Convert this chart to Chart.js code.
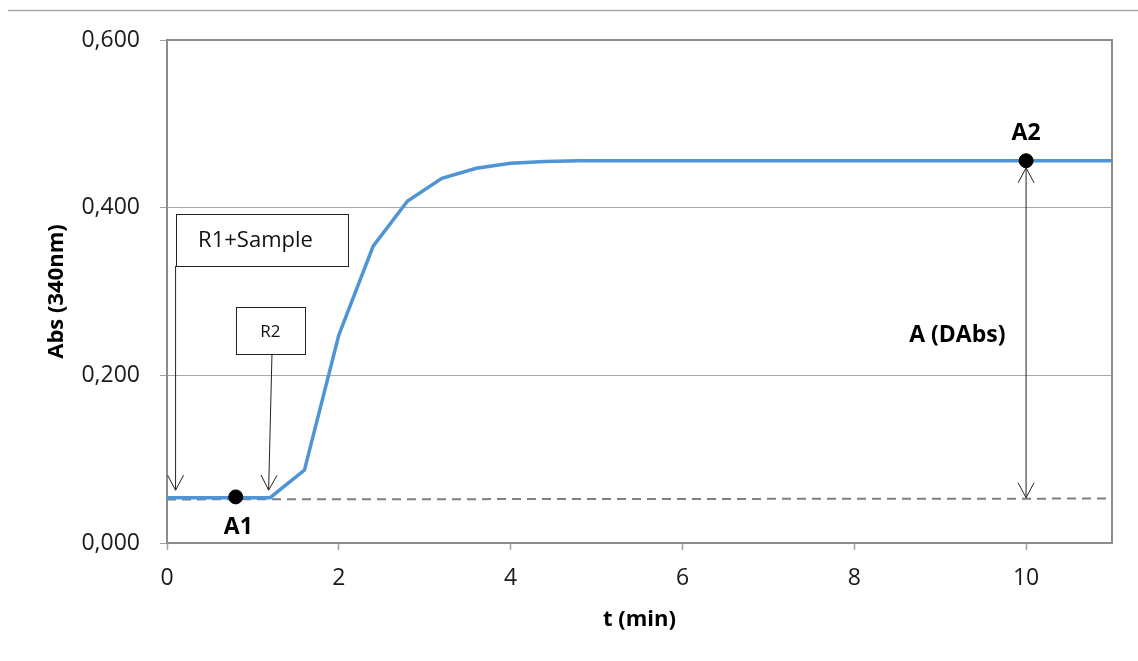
<!DOCTYPE html>
<html lang="fr">
<head>
<meta charset="UTF-8">
<title>Abs (340nm) - cinétique</title>
<script src="https://cdn.jsdelivr.net/npm/chart.js@4.4.0/dist/chart.umd.min.js"></script>
<style>
    html, body { margin: 0; padding: 0; background: #fff; }
    .chart-container { position: relative; width: 1138px; height: 661px; }
</style>
</head>
<body>
<div class="chart-container"><canvas id="absChart"></canvas></div>
<script>
    // Valeurs
    const temps = [0, 0.4, 0.8, 1.2, 1.6, 2.0, 2.4, 2.8, 3.2, 3.6, 4.0, 4.4, 4.8, 6, 8, 10, 11];
    const absorbance = [0.054, 0.054, 0.054, 0.054, 0.087, 0.248, 0.354, 0.408, 0.435, 0.447, 0.453, 0.455, 0.456, 0.456, 0.456, 0.456, 0.456];

    // Ligne de base (pointillés)
    const baseTemps = [0, 11];
    const baseAbs = [0.052, 0.053];

    // Points A1 et A2
    const pointsTemps = [0.8, 10];
    const pointsAbs = [0.055, 0.456];

    const xTicks = [0, 2, 4, 6, 8, 10];
    const xTickLabels = ['0', '2', '4', '6', '8', '10'];
    const yTicks = [0, 0.2, 0.4, 0.6];
    const yTickLabels = ['0,000', '0,200', '0,400', '0,600'];

    // Annotations (en unités du graphique)
    const boites = [
        { texte: 'R1+Sample', x0: 0.10, x1: 2.107, y0: 0.3305, y1: 0.393, tx: 1.03, ty: 0.361, taille: 22 },
        { texte: 'R2', x0: 0.806, x1: 1.603, y0: 0.225, y1: 0.281, tx: 1.203, ty: 0.252, taille: 17 }
    ];
    const fleches = [
        { de: [0.10, 0.3305], a: [0.10, 0.063], double: false },
        { de: [1.222, 0.225], a: [1.183, 0.063], double: false },
        { de: [10, 0.054], a: [10, 0.4475], double: true }
    ];
    const etiquettes = [
        { texte: 'A1', t: 0.83, v: 0.019 },
        { texte: 'A2', t: 10, v: 0.488 },
        { texte: 'A (DAbs)', t: 9.2, v: 0.248 }
    ];

    const police = '"Open Sans", "DejaVu Sans", sans-serif';
    const gris = '#8c8c8c';

    function pointeOuverte(ctx, x1, y1, x2, y2) {
        const ang = Math.atan2(y2 - y1, x2 - x1);
        const L = 17, a = 0.49;
        ctx.beginPath();
        ctx.moveTo(x2 - L * Math.cos(ang - a), y2 - L * Math.sin(ang - a));
        ctx.lineTo(x2, y2);
        ctx.lineTo(x2 - L * Math.cos(ang + a), y2 - L * Math.sin(ang + a));
        ctx.stroke();
    }

    const decor = {
        id: 'decor',
        beforeDraw(chart) {
            const ctx = chart.ctx;
            ctx.save();
            ctx.fillStyle = '#fff';
            ctx.fillRect(0, 0, chart.width, chart.height);
            ctx.strokeStyle = '#a6a6a6';
            ctx.lineWidth = 1.5;
            ctx.beginPath();
            ctx.moveTo(8, 10.5);
            ctx.lineTo(chart.width, 10.5);
            ctx.stroke();
            ctx.restore();
        },
        beforeDatasetsDraw(chart) {
            const { ctx, chartArea: ca } = chart;
            ctx.save();
            ctx.strokeStyle = gris;
            ctx.lineWidth = 2;
            ctx.strokeRect(ca.left, ca.top, ca.right - ca.left, ca.bottom - ca.top);
            ctx.restore();
        },
        afterDatasetsDraw(chart) {
            const { ctx, scales: { x, y } } = chart;
            ctx.save();
            ctx.strokeStyle = '#222';
            ctx.lineWidth = 1;
            ctx.fillStyle = '#111';
            ctx.textAlign = 'center';
            ctx.textBaseline = 'middle';
            boites.forEach(b => {
                const px0 = Math.round(x.getPixelForValue(b.x0)) + 0.5;
                const px1 = Math.round(x.getPixelForValue(b.x1)) + 0.5;
                const py0 = Math.round(y.getPixelForValue(b.y1)) + 0.5;
                const py1 = Math.round(y.getPixelForValue(b.y0)) + 0.5;
                ctx.fillStyle = '#fff';
                ctx.fillRect(px0, py0, px1 - px0, py1 - py0);
                ctx.strokeRect(px0, py0, px1 - px0, py1 - py0);
                ctx.fillStyle = '#111';
                ctx.font = b.taille + 'px ' + police;
                ctx.fillText(b.texte, x.getPixelForValue(b.tx), y.getPixelForValue(b.ty));
            });
            fleches.forEach(f => {
                const x1 = x.getPixelForValue(f.de[0]), y1 = y.getPixelForValue(f.de[1]);
                const x2 = x.getPixelForValue(f.a[0]), y2 = y.getPixelForValue(f.a[1]);
                ctx.beginPath();
                ctx.moveTo(x1, y1);
                ctx.lineTo(x2, y2);
                ctx.stroke();
                pointeOuverte(ctx, x1, y1, x2, y2);
                if (f.double) pointeOuverte(ctx, x2, y2, x1, y1);
            });
            ctx.fillStyle = '#000';
            ctx.font = 'bold 23px ' + police;
            etiquettes.forEach(e => {
                ctx.fillText(e.texte, x.getPixelForValue(e.t), y.getPixelForValue(e.v));
            });
            ctx.restore();
        }
    };

    const ctx = document.getElementById('absChart').getContext('2d');
    new Chart(ctx, {
        type: 'scatter',
        data: {
            datasets: [
                {
                    label: 'A1 / A2',
                    data: pointsTemps.map((t, i) => ({ x: t, y: pointsAbs[i] })),
                    pointRadius: 7,
                    pointBackgroundColor: '#000',
                    pointBorderColor: '#000',
                    showLine: false,
                    order: 0
                },
                {
                    label: 'Abs',
                    data: temps.map((t, i) => ({ x: t, y: absorbance[i] })),
                    showLine: true,
                    borderColor: '#4F94D4',
                    borderWidth: 3.5,
                    pointRadius: 0,
                    tension: 0,
                    order: 1
                },
                {
                    label: 'Base',
                    data: baseTemps.map((t, i) => ({ x: t, y: baseAbs[i] })),
                    showLine: true,
                    borderColor: '#7f7f7f',
                    borderWidth: 2,
                    borderDash: [9, 6],
                    pointRadius: 0,
                    order: 2
                }
            ]
        },
        options: {
            responsive: true,
            maintainAspectRatio: false,
            animation: false,
            layout: { padding: { top: 40, right: 26, bottom: 0, left: 0 } },
            plugins: {
                legend: { display: false },
                tooltip: { enabled: false }
            },
            scales: {
                x: {
                    type: 'linear',
                    min: 0,
                    max: 11,
                    afterBuildTicks: s => { s.ticks = xTicks.map(v => ({ value: v })); },
                    afterFit: s => { s.height = 118; },
                    ticks: {
                        callback: (v, i) => xTickLabels[i],
                        color: '#1a1a1a',
                        padding: 15,
                        maxRotation: 0,
                        font: { family: police, size: 23 }
                    },
                    grid: { drawOnChartArea: false, tickLength: 7, tickColor: '#a0a0a0', tickWidth: 1.5 },
                    border: { display: true, color: gris, width: 2 },
                    title: {
                        display: true,
                        text: 't (min)',
                        color: '#000',
                        font: { family: police, size: 22, weight: 'bold' },
                        padding: { top: 0, bottom: 28 }
                    }
                },
                y: {
                    min: 0,
                    max: 0.6,
                    afterBuildTicks: s => { s.ticks = yTicks.map(v => ({ value: v })); },
                    afterFit: s => { s.width = 167; },
                    ticks: {
                        callback: (v, i) => yTickLabels[i],
                        color: '#1a1a1a',
                        padding: 20,
                        font: { family: police, size: 23 }
                    },
                    grid: { color: '#a8a8a8', lineWidth: 1, tickLength: 7, tickColor: '#a0a0a0' },
                    border: { display: true, color: gris, width: 2 },
                    title: {
                        display: true,
                        text: 'Abs (340nm)',
                        color: '#000',
                        font: { family: police, size: 22, weight: 'bold' },
                        padding: { top: 44, bottom: 0 }
                    }
                }
            }
        },
        plugins: [decor]
    });
</script>
</body>
</html>
